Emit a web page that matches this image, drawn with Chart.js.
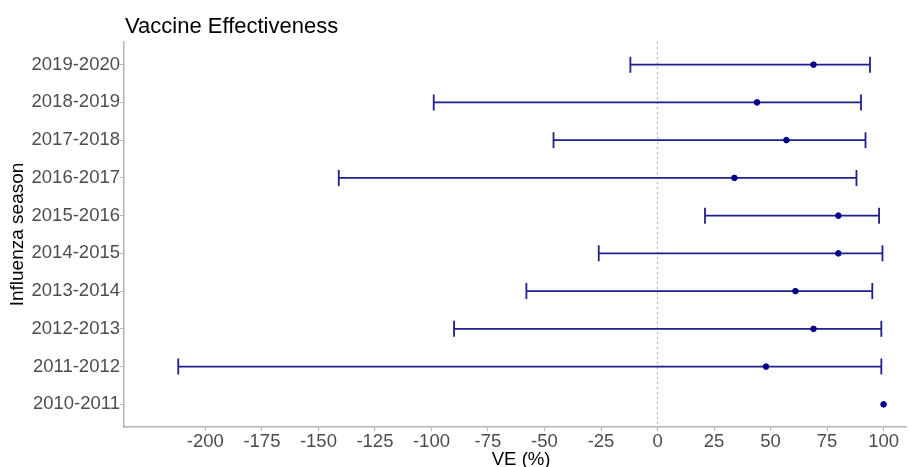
<!DOCTYPE html>
<html>
<head>
<meta charset="utf-8">
<script src="https://cdn.jsdelivr.net/npm/chart.js@4"></script>
<style>
  body { margin: 0; background: #fff; }
  canvas { display: block; }
</style>
</head>
<body>
<canvas id="veChart" width="910" height="467"></canvas>
<script>
// seasons listed bottom to top
const seasons = ["2010-2011","2011-2012","2012-2013","2013-2014","2014-2015",
                 "2015-2016","2016-2017","2017-2018","2018-2019","2019-2020"];
const ve    = [100, 48, 69, 61, 80, 80, 34, 57, 44, 69];
const lower = [null, -212, -90, -58, -26, 21, -141, -46, -99, -12];
const upper = [null, 99, 99, 95, 99.5, 98, 88, 92, 90, 94];
const xTicks = [-200,-175,-150,-125,-100,-75,-50,-25,0,25,50,75,100];

const FONT = "'Liberation Sans', Arial, sans-serif";
const AXIS_GREY = "#b4b4b4";
const BAR_COLOR = "#1f1f90";

// zero reference line, CI whiskers, title and x axis title
const forestPlugin = {
  id: "forest",
  beforeDatasetsDraw(chart) {
    const {ctx, chartArea, scales: {x, y}} = chart;
    ctx.save();

    const x0 = x.getPixelForValue(0);
    ctx.strokeStyle = "#b3b3f4";
    ctx.lineWidth = 1.2;
    ctx.setLineDash([2, 3]);
    ctx.beginPath();
    ctx.moveTo(x0, chartArea.top);
    ctx.lineTo(x0, chartArea.bottom);
    ctx.stroke();
    ctx.setLineDash([]);

    ctx.strokeStyle = BAR_COLOR;
    ctx.lineWidth = 1.8;
    seasons.forEach((s, i) => {
      if (lower[i] === null) return;
      const yy = y.getPixelForValue(i + 1);
      const xl = x.getPixelForValue(lower[i]);
      const xr = x.getPixelForValue(upper[i]);
      ctx.beginPath();
      ctx.moveTo(xl, yy);
      ctx.lineTo(xr, yy);
      ctx.moveTo(xl, yy - 8);
      ctx.lineTo(xl, yy + 8);
      ctx.moveTo(xr, yy - 8);
      ctx.lineTo(xr, yy + 8);
      ctx.stroke();
    });
    ctx.restore();
  },
  afterDraw(chart) {
    const {ctx, chartArea} = chart;
    ctx.save();
    ctx.fillStyle = "#000";
    ctx.textBaseline = "alphabetic";
    ctx.textAlign = "left";
    ctx.font = "22px " + FONT;
    ctx.fillText("Vaccine Effectiveness", chartArea.left + 1, 33);
    ctx.textAlign = "center";
    ctx.font = "18.6px " + FONT;
    ctx.fillText("VE (%)", (chartArea.left + chartArea.right) / 2 + 6, 465);
    ctx.restore();
  }
};

const data = {
  datasets: [
    {
      data: ve.map((v, i) => ({x: v, y: i + 1})),
      backgroundColor: "#00008b",
      borderColor: "#00008b",
      pointRadius: 2.8,
      pointHoverRadius: 2.8,
    },
  ],
};

const config = {
  type: "scatter",
  data: data,
  options: {
    responsive: false,
    animation: false,
    layout: {
      padding: {top: 42, right: 0, bottom: 0, left: 0},
    },
    scales: {
      x: {
        type: "linear",
        min: -236,
        max: 110,
        afterBuildTicks: (scale) => {
          scale.ticks = xTicks.map(v => ({value: v}));
        },
        afterFit: (scale) => {
          scale.height = 40;
        },
        grid: {
          drawOnChartArea: false,
          drawTicks: true,
          tickLength: 4,
          color: AXIS_GREY,
        },
        border: {
          display: true,
          color: AXIS_GREY,
          width: 1.5,
        },
        ticks: {
          padding: 0,
          maxRotation: 0,
          autoSkip: false,
          font: {family: FONT, size: 18.5},
          color: "#4d4d4d",
        },
      },
      y: {
        type: "linear",
        min: 0.4,
        max: 10.6,
        afterBuildTicks: (scale) => {
          scale.ticks = seasons.map((s, i) => ({value: i + 1}));
        },
        afterFit: (scale) => {
          scale.width = 124;
        },
        grid: {
          drawOnChartArea: false,
          drawTicks: true,
          tickLength: 4,
          color: AXIS_GREY,
        },
        border: {
          display: true,
          color: AXIS_GREY,
          width: 1.5,
        },
        ticks: {
          padding: 0,
          autoSkip: false,
          font: {family: FONT, size: 18.5},
          color: "#4d4d4d",
          callback: (v) => seasons[v - 1],
        },
        title: {
          display: true,
          text: "Influenza season",
          color: "#000",
          font: {family: FONT, size: 19},
          padding: {top: 6, bottom: 0},
        },
      },
    },
    plugins: {
      legend: {display: false},
      tooltip: {enabled: false},
    },
  },
  plugins: [forestPlugin],
};

const veChart = new Chart(document.getElementById("veChart").getContext("2d"), config);
</script>
</body>
</html>
